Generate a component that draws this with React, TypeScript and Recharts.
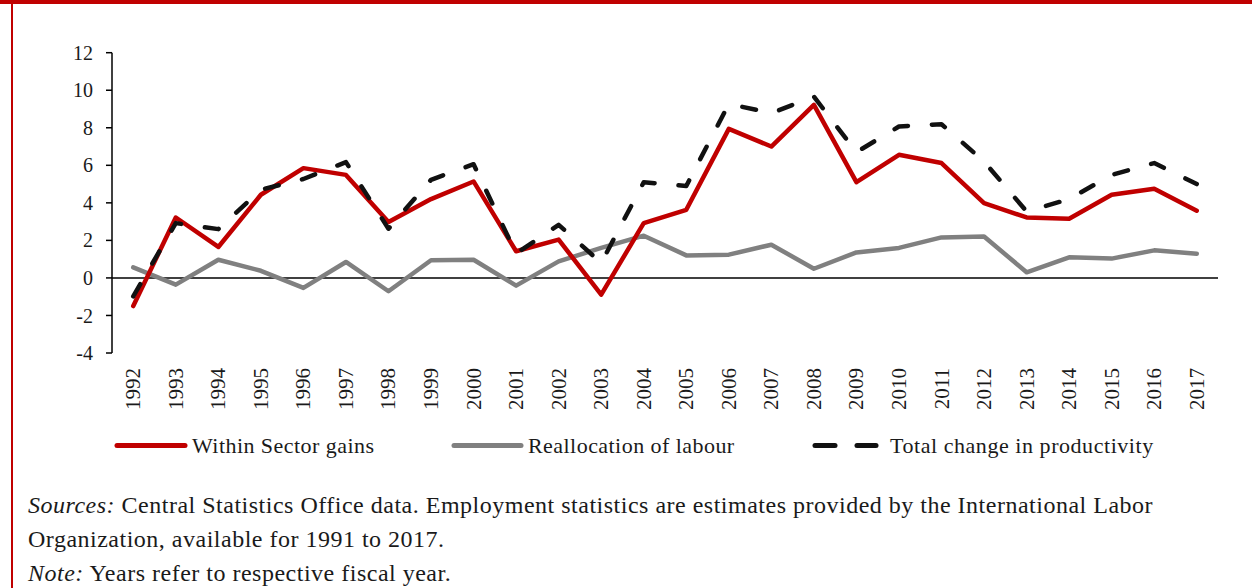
import React from 'react';
import { LineChart, Line, XAxis, YAxis, ReferenceLine } from 'recharts';

const years = ['1992','1993','1994','1995','1996','1997','1998','1999','2000','2001','2002','2003','2004','2005','2006','2007','2008','2009','2010','2011','2012','2013','2014','2015','2016','2017'];
const withinSector = [-1.5, 3.22, 1.65, 4.43, 5.85, 5.49, 2.98, 4.2, 5.14, 1.42, 2.04, -0.89, 2.92, 3.63, 7.94, 7.0, 9.22, 5.1, 6.56, 6.12, 3.99, 3.22, 3.15, 4.43, 4.75, 3.58];
const reallocation = [0.56, -0.36, 0.97, 0.38, -0.53, 0.85, -0.71, 0.94, 0.97, -0.41, 0.88, 1.6, 2.25, 1.2, 1.24, 1.77, 0.49, 1.36, 1.6, 2.16, 2.21, 0.3, 1.1, 1.03, 1.47, 1.29];
const totalChange = [-0.98, 2.92, 2.6, 4.7, 5.27, 6.17, 2.62, 5.23, 6.06, 1.3, 2.83, 0.8, 5.1, 4.9, 9.27, 8.78, 9.66, 6.7, 8.07, 8.19, 6.2, 3.54, 4.2, 5.49, 6.12, 5.0];
const yTicks = [-4, -2, 0, 2, 4, 6, 8, 10, 12];

const seriesNames = ['Within Sector gains', 'Reallocation of labour', 'Total change in productivity'];

const data = years.map((y, i) => ({
  year: y,
  within: withinSector[i],
  realloc: reallocation[i],
  total: totalChange[i],
}));

const FONT = '"Liberation Serif", "DejaVu Serif", serif';
const RED = '#C00000';
const GREY = '#808080';
const BLACK = '#111111';

const XTick = (props: any) => {
  const { x, y, payload } = props;
  return (
    <text
      transform={`translate(${x},${y + 15}) rotate(-90)`}
      textAnchor="end"
      dominantBaseline="central"
      fontFamily={FONT}
      fontSize={21}
      fill="#1a1a1a"
    >
      {payload.value}
    </text>
  );
};

export default function App() {
  return (
    <div style={{ position: 'absolute', left: 0, top: 0, width: 1252, height: 588, background: '#fff', overflow: 'hidden', fontFamily: FONT }}>
      <div style={{ position: 'absolute', left: 0, top: 0, width: 1252, height: 4, background: RED }} />
      <div style={{ position: 'absolute', left: 11, top: 0, width: 2, height: 588, background: RED }} />
      <div style={{ position: 'absolute', left: 0, top: 0 }}>
        <LineChart width={1252} height={430} data={data} margin={{ top: 52.7, right: 34, bottom: 17, left: 52 }}>
          <XAxis
            dataKey="year"
            type="category"
            interval={0}
            axisLine={false}
            tickLine={false}
            tickSize={0}
            tickMargin={0}
            height={60}
            padding={{ left: 21.25, right: 21.25 }}
            tick={<XTick />}
          />
          <YAxis
            type="number"
            domain={[-4, 12]}
            ticks={yTicks}
            interval={0}
            width={60}
            axisLine={{ stroke: '#000', strokeWidth: 1.5 }}
            tickLine={{ stroke: '#000', strokeWidth: 1.5 }}
            tickSize={6}
            tickMargin={13}
            tick={{ fontFamily: FONT, fontSize: 20, fill: '#1a1a1a' }}
          />
          <ReferenceLine y={0} stroke="#000" strokeWidth={1.5} />
          <Line dataKey="realloc" stroke={GREY} strokeWidth={4.5} dot={false} strokeLinecap="round" strokeLinejoin="round" isAnimationActive={false} />
          <Line dataKey="within" stroke={RED} strokeWidth={4.5} dot={false} strokeLinecap="round" strokeLinejoin="round" isAnimationActive={false} />
          <Line dataKey="total" stroke={BLACK} strokeWidth={4.5} strokeDasharray="14 24" dot={false} strokeLinecap="round" strokeLinejoin="round" isAnimationActive={false} />
        </LineChart>
      </div>
      <svg style={{ position: 'absolute', left: 0, top: 425 }} width={1252} height={42}>
        <line x1={117} y1={20.5} x2={185} y2={20.5} stroke={RED} strokeWidth={5} strokeLinecap="round" />
        <text x={192} y={20.5} dominantBaseline="central" fontFamily={FONT} fontSize={22} letterSpacing={0.45} fill="#1a1a1a">{seriesNames[0]}</text>
        <line x1={454} y1={20.5} x2={521} y2={20.5} stroke={GREY} strokeWidth={5} strokeLinecap="round" />
        <text x={528} y={20.5} dominantBaseline="central" fontFamily={FONT} fontSize={22} letterSpacing={0.45} fill="#1a1a1a">{seriesNames[1]}</text>
        <line x1={815} y1={20.5} x2={835} y2={20.5} stroke={BLACK} strokeWidth={5} strokeLinecap="round" />
        <line x1={857} y1={20.5} x2={876} y2={20.5} stroke={BLACK} strokeWidth={5} strokeLinecap="round" />
        <text x={890} y={20.5} dominantBaseline="central" fontFamily={FONT} fontSize={22} letterSpacing={0.55} fill="#1a1a1a">{seriesNames[2]}</text>
      </svg>
      <div style={{ position: 'absolute', left: 28, top: 488, fontSize: 24, letterSpacing: '0.5px', lineHeight: '34px', color: '#1a1a1a', whiteSpace: 'nowrap' }}>
        <div><i>Sources:</i> Central Statistics Office data. Employment statistics are estimates provided by the International Labor</div>
        <div>Organization, available for 1991 to 2017.</div>
        <div><i>Note:</i> Years refer to respective fiscal year.</div>
      </div>
    </div>
  );
}
